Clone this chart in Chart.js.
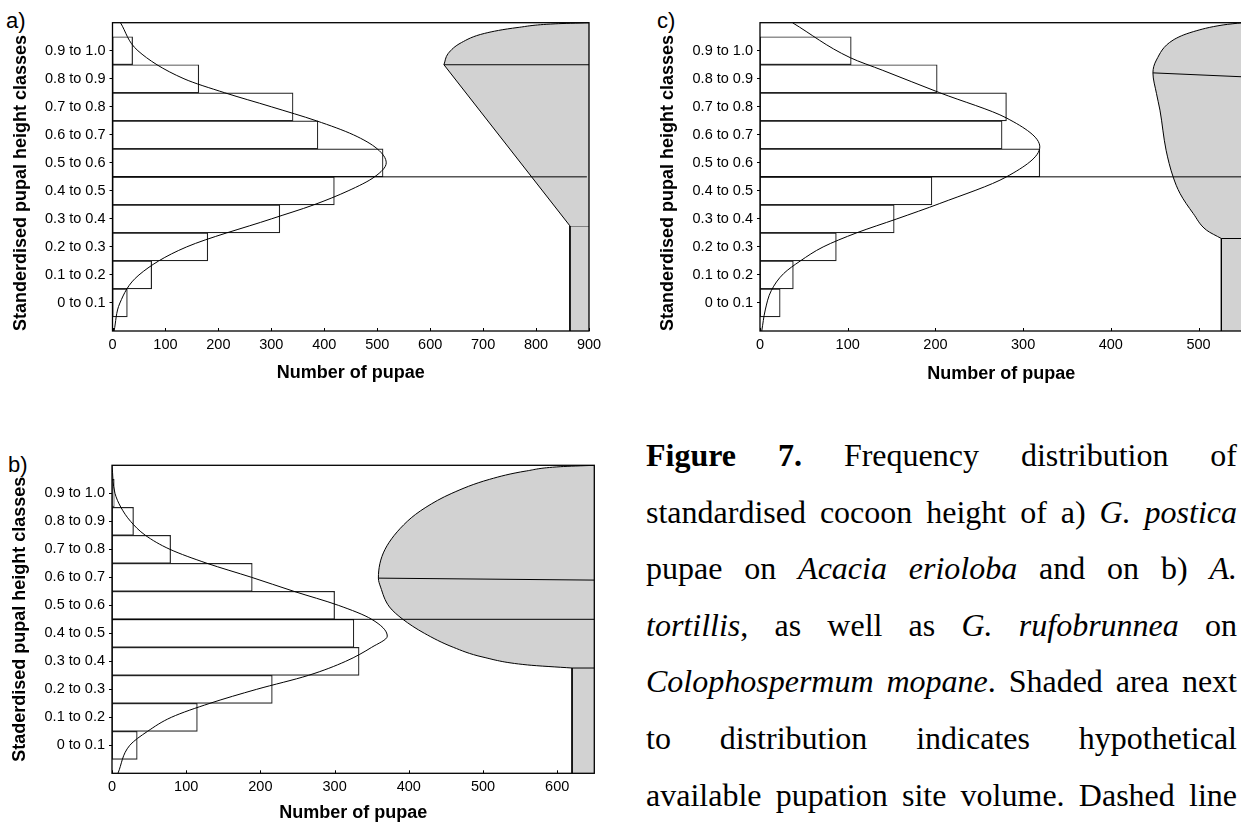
<!DOCTYPE html>
<html>
<head>
<meta charset="utf-8">
<script src="https://cdn.jsdelivr.net/npm/chart.js@4.4.1/dist/chart.umd.min.js"></script>
<style>
  html, body { margin: 0; padding: 0; width: 1241px; height: 827px; overflow: hidden; background: #fff; }
  canvas { position: absolute; }
  .tag { position: absolute; font: 22px "Liberation Sans", Arial, sans-serif; line-height: 22px; color: #000; }
  #caption { position: absolute; left: 646px; top: 427px; width: 591px; color: #000;
             font: 32px "Liberation Serif", "Times New Roman", serif; line-height: 56.6px; }
  #caption div { text-align: justify; text-align-last: justify; }
</style>
</head>
<body>
<div class="tag" style="left:6px; top:10px">a)</div>
<div class="tag" style="left:657px; top:10px">c)</div>
<div class="tag" style="left:8px; top:454px">b)</div>

<canvas id="chartA" width="620" height="395" style="left:0; top:0"></canvas>
<canvas id="chartC" width="620" height="395" style="left:650px; top:0"></canvas>
<canvas id="chartB" width="620" height="395" style="left:0; top:442px"></canvas>

<div id="caption">
  <div><b>Figure 7.</b> Frequency distribution of</div>
  <div>standardised cocoon height of a) <i>G. postica</i></div>
  <div>pupae on <i>Acacia erioloba</i> and on b) <i>A.</i></div>
  <div><i>tortillis</i>, as well as <i>G. rufobrunnea</i> on</div>
  <div><i>Colophospermum mopane</i>. Shaded area next</div>
  <div>to distribution indicates hypothetical</div>
  <div>available pupation site volume. Dashed line</div>
</div>

<script>
// height classes (position 0..9 on the class axis)
const classLabels = ['0 to 0.1', '0.1 to 0.2', '0.2 to 0.3', '0.3 to 0.4', '0.4 to 0.5',
                     '0.5 to 0.6', '0.6 to 0.7', '0.7 to 0.8', '0.8 to 0.9', '0.9 to 1.0'];
const classPos = [0, 1, 2, 3, 4, 5, 6, 7, 8, 9];

const xTicksA = [0, 100, 200, 300, 400, 500, 600, 700, 800, 900];
const xTicksB = [0, 100, 200, 300, 400, 500, 600];
const xTicksC = [0, 100, 200, 300, 400, 500];

// a) G. postica on Acacia erioloba
const countsA = [28, 74, 180, 316, 419, 511, 388, 341, 163, 38];
const fitA_pos = [-1, 0, 1, 2, 3, 3.5, 4, 4.5, 5, 5.5, 6, 6.5, 7, 7.5, 8, 9, 10];
const fitA_val = [3, 14, 50, 140, 300, 380, 445, 495, 517, 500, 455, 385, 300, 212, 135, 48, 15];
const midA_x = [0, 896], midA_y = [4.5, 4.5];
const apexA_x = [626, 900], apexA_y = [8.5, 8.5];
const capA_x = [900, 836, 766, 703, 659, 634, 626];
const capA_y = [10, 9.96, 9.83, 9.62, 9.29, 8.9, 8.5];
const slopeA_x = [626, 864], slopeA_y = [8.5, 2.75];
const footA_x = [900, 864, 864], footA_y = [2.75, 2.75, -1];

// b) G. postica on A. tortillis
const countsB = [34, 115, 216, 333, 326, 300, 189, 79, 29, 3];
const fitB_pos = [-1, 0, 0.5, 1, 1.5, 2, 2.5, 3, 3.5, 3.9, 4.5, 5, 5.5, 6, 6.5, 7, 7.5, 8, 8.5, 9, 10];
const fitB_val = [8, 24, 48, 80, 132, 195, 265, 315, 350, 371, 350, 305, 245, 188, 128, 78, 45, 25, 12, 4, 0];
const midB_x = [0, 650], midB_y = [4.5, 4.5];
const apexB_x = [359, 650], apexB_y = [5.97, 5.9];
const bowlB_x = [650, 604, 559, 509, 458, 423, 398, 368, 359, 362, 374, 392, 421, 460, 500, 560, 620];
const bowlB_y = [10, 9.95, 9.8, 9.5, 9.0, 8.5, 8.0, 7.0, 5.97, 5.65, 4.94, 4.5, 4.0, 3.5, 3.15, 2.87, 2.76];
const footB_x = [650, 620, 620], footB_y = [2.76, 2.76, -1];

// c) G. rufobrunnea on Colophospermum mopane
const countsC = [23, 38, 87, 153, 196, 319, 276, 281, 202, 104];
const fitC_pos = [-1, -0.25, 0.45, 1.05, 1.5, 2, 2.5, 3, 3.55, 4.5, 5.57, 6.6, 7.5, 8.3, 8.75, 10];
const fitC_val = [2, 6, 13, 27, 46, 72, 110, 156, 205, 281, 319, 281, 205, 140, 103, 37];
const midC_x = [0, 550], midC_y = [4.5, 4.5];
const apexC_x = [448, 550], apexC_y = [8.21, 8.07];
const bowlC_x = [550, 528, 494, 471, 452, 448, 452, 456, 463, 471, 479, 494, 509, 526];
const bowlC_y = [10, 9.92, 9.68, 9.38, 8.67, 8.21, 7.48, 6.88, 5.45, 4.5, 3.9, 3.19, 2.6, 2.3];
const footC_x = [550, 526, 526], footC_y = [2.3, 2.3, -1];

const SHADE = '#d2d2d2';
const tickFont = { family: '"Liberation Sans", Arial, sans-serif', size: 14.5 };
const titleFont = { family: '"Liberation Sans", Arial, sans-serif', size: 18, weight: 'bold' };

const framePlugin = {
  id: 'frame',
  afterDatasetsDraw(chart) {
    const { ctx, chartArea: a, scales: { x } } = chart;
    ctx.save();
    ctx.strokeStyle = '#000';
    ctx.lineWidth = 1.3;
    ctx.strokeRect(a.left, a.top, a.right - a.left, a.bottom - a.top);
    // small inward ticks on the count axis
    ctx.lineWidth = 1;
    ctx.beginPath();
    x.ticks.forEach(t => {
      const px = Math.round(x.getPixelForValue(t.value)) + 0.5;
      ctx.moveTo(px, a.bottom);
      ctx.lineTo(px, a.bottom - 3);
    });
    ctx.stroke();
    ctx.restore();
  }
};

function line(xs, ys, extra) {
  return Object.assign({
    type: 'line',
    data: xs.map((x, i) => ({ x, y: ys[i] })),
    borderColor: '#000',
    borderWidth: 1,
    pointRadius: 0,
    fill: false,
    tension: 0
  }, extra || {});
}

function shaded(xs, ys, xMax, smooth) {
  return line(xs, ys, {
    fill: { value: xMax },
    backgroundColor: SHADE,
    cubicInterpolationMode: smooth ? 'monotone' : 'default'
  });
}

function panel(id, p) {
  const bars = {
    type: 'bar',
    data: p.counts.map((v, i) => ({ x: v, y: classPos[i] })),
    backgroundColor: '#fff',
    borderColor: '#222',
    borderWidth: 1.2,
    borderSkipped: false,
    categoryPercentage: 1,
    barPercentage: 1
  };
  new Chart(document.getElementById(id), {
    type: 'bar',
    data: {
      datasets: [
        line(p.fitX, p.fitY, { cubicInterpolationMode: 'monotone' }),
        line(p.midX, p.midY),
        line(p.apexX, p.apexY),
        bars,
        ...p.shapes
      ]
    },
    options: {
      indexAxis: 'y',
      responsive: false,
      animation: false,
      events: [],
      layout: { padding: p.pad },
      plugins: { legend: { display: false }, tooltip: { enabled: false } },
      scales: {
        x: {
          type: 'linear', min: 0, max: p.xMax, offset: false,
          grid: { display: false, drawTicks: false },
          border: { display: false },
          afterBuildTicks: s => { s.ticks = p.xTicks.map(value => ({ value })); },
          afterFit: s => { s.height = p.xHeight; },
          ticks: { autoSkip: false, maxRotation: 0, padding: 5, color: '#000', font: tickFont },
          title: { display: true, text: 'Number of pupae', color: '#000', font: titleFont,
                   padding: { top: 0, bottom: p.xTitlePad } }
        },
        y: {
          type: 'linear', min: -1, max: 10, offset: false,
          grid: { offset: false, drawOnChartArea: false, tickLength: 3, color: '#000', lineWidth: 1 },
          border: { display: false },
          afterBuildTicks: s => { s.ticks = classPos.map(value => ({ value })); },
          afterFit: s => { s.width = p.yWidth; },
          ticks: { autoSkip: false, padding: 4, color: '#000', font: tickFont,
                   callback: (v, i) => classLabels[i] },
          title: { display: true, text: p.yTitle, color: '#000', font: titleFont, align: p.yTitleAlign,
                   padding: { top: p.yTitlePad, bottom: 0 } }
        }
      }
    },
    plugins: [framePlugin]
  });
}

panel('chartA', {
  counts: countsA, xMax: 900, xTicks: xTicksA,
  fitX: fitA_val, fitY: fitA_pos, midX: midA_x, midY: midA_y, apexX: apexA_x, apexY: apexA_y,
  shapes: [
    shaded(slopeA_x, slopeA_y, 900, false),
    shaded(footA_x, footA_y, 900, false),
    shaded(capA_x, capA_y, 900, true)
  ],
  pad: { left: 0, top: 22.7, right: 31, bottom: 0 },
  yWidth: 112.5, xHeight: 64, xTitlePad: 11.2, yTitlePad: 10, yTitleAlign: 'start',
  yTitle: 'Standerdised pupal height classes'
});

panel('chartC', {
  counts: countsC, xMax: 550, xTicks: xTicksC,
  fitX: fitC_val, fitY: fitC_pos, midX: midC_x, midY: midC_y, apexX: apexC_x, apexY: apexC_y,
  shapes: [
    shaded(footC_x, footC_y, 550, false),
    shaded(bowlC_x, bowlC_y, 550, true)
  ],
  pad: { left: 0, top: 22.7, right: 27.6, bottom: 0 },
  yWidth: 110, xHeight: 64, xTitlePad: 10.2, yTitlePad: 7, yTitleAlign: 'start',
  yTitle: 'Standerdised pupal height classes'
});

panel('chartB', {
  counts: countsB, xMax: 650, xTicks: xTicksB,
  fitX: fitB_val, fitY: fitB_pos, midX: midB_x, midY: midB_y, apexX: apexB_x, apexY: apexB_y,
  shapes: [
    shaded(footB_x, footB_y, 650, false),
    shaded(bowlB_x, bowlB_y, 650, true)
  ],
  pad: { left: 0, top: 23.3, right: 25.7, bottom: 0 },
  yWidth: 112, xHeight: 63.7, xTitlePad: 13.2, yTitlePad: 9.5, yTitleAlign: 'center',
  yTitle: 'Staderdised pupal height classes'
});
</script>
</body>
</html>
